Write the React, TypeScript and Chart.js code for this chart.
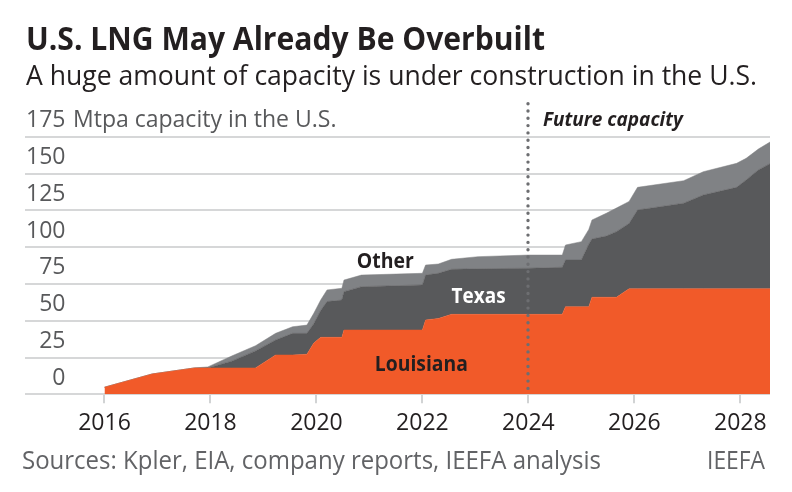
import React, { useEffect, useRef } from 'react';
import { Chart, registerables } from 'chart.js';

Chart.register(...registerables);

// Years (decimal) at which capacity changes
const years = [
  2016.0, 2016.9, 2017.7, 2017.95, 2018.4, 2018.85, 2019.23, 2019.55, 2019.82, 2019.95,
  2020.08, 2020.2, 2020.48, 2020.52, 2020.85, 2022.0, 2022.06, 2022.3, 2022.55, 2023.05,
  2024.0, 2024.64, 2024.7, 2025.0, 2025.14, 2025.2, 2025.47, 2025.66, 2025.9, 2026.06,
  2026.93, 2027.3, 2027.93, 2028.11, 2028.34, 2028.57,
];

// Capacity in Mtpa by state (stacked)
const louisiana = [
  4.8, 13.8, 17.9, 17.9, 17.9, 17.9, 26.7, 26.7, 27.2, 34.8,
  38.7, 38.7, 38.7, 43.7, 43.7, 43.7, 50.5, 51.5, 54.3, 54.3,
  54.3, 54.3, 59.5, 59.5, 59.5, 65.9, 65.9, 65.9, 71.7, 71.7,
  71.7, 71.7, 71.7, 71.7, 71.7, 71.7,
];
const texas = [
  0, 0, 0, 0, 4.6, 11.6, 10.2, 14.7, 14.2, 13.2,
  18.3, 24.3, 25.3, 26.0, 29.4, 30.6, 30.5, 30.7, 30.6, 31.0,
  31.3, 32.0, 31.7, 31.7, 42.5, 39.6, 41.6, 44.6, 44.3, 53.5,
  58.1, 63.7, 68.9, 73.9, 80.7, 85.2,
];
const other = [
  0, 0, 0, 0.7, 3.5, 3.5, 4.5, 4.5, 5.6, 7.0,
  7.0, 7.9, 8.0, 7.9, 7.9, 7.9, 6.8, 6.3, 6.8, 8.2,
  9.0, 8.3, 10.2, 12.5, 10.0, 12.9, 15.5, 16.0, 15.0, 15.4,
  15.3, 15.8, 16.3, 14.7, 14.2, 14.7,
];

const xTicks = [2016, 2018, 2020, 2022, 2024, 2026, 2028];
const yTicks = [0, 25, 50, 75, 100, 125, 150, 175];
const futureYear = 2024;

const title = 'U.S. LNG May Already Be Overbuilt';
const subtitle = 'A huge amount of capacity is under construction in the U.S.';
const yUnit = 'Mtpa capacity in the U.S.';
const source = 'Sources: Kpler, EIA, company reports, IEEFA analysis';
const credit = 'IEEFA';
const futureLabel = 'Future capacity';

const FONT = '"Open Sans", "Noto Sans", sans-serif';

const textPlugin = {
  id: 'textPlugin',
  afterDatasetsDraw(chart: any) {
    const { ctx, chartArea, scales } = chart;
    const x = scales.x;
    const y = scales.y;
    ctx.save();

    // dotted divider
    const px = Math.round(x.getPixelForValue(futureYear));
    ctx.strokeStyle = '#6D6E71';
    ctx.lineWidth = 3.4;
    ctx.lineCap = 'round';
    ctx.setLineDash([0, 7.3]);
    ctx.beginPath();
    ctx.moveTo(px, chartArea.top - 33);
    ctx.lineTo(px, chartArea.bottom + 1);
    ctx.stroke();
    ctx.setLineDash([]);

    // series labels
    ctx.textAlign = 'center';
    ctx.textBaseline = 'alphabetic';
    ctx.font = `bold 22px ${FONT}`;
    ctx.fillStyle = '#231F20';
    ctx.fillText('Other', x.getPixelForValue(2021.3), y.getPixelForValue(85.6), 57);
    ctx.fillStyle = '#FFFFFF';
    ctx.fillText('Texas', x.getPixelForValue(2023.06), y.getPixelForValue(62.2), 54);
    ctx.fillStyle = '#231F20';
    ctx.fillText('Louisiana', x.getPixelForValue(2021.98), y.getPixelForValue(16.0), 93);

    // future capacity
    ctx.textAlign = 'left';
    ctx.font = `italic bold 19px ${FONT}`;
    ctx.fillStyle = '#231F20';
    ctx.fillText(futureLabel, px + 15, chartArea.top - 10.5, 147);
    ctx.restore();
  },
  afterDraw(chart: any) {
    const { ctx, scales } = chart;
    const y = scales.y;
    ctx.save();
    ctx.textAlign = 'left';
    ctx.textBaseline = 'alphabetic';
    ctx.fillStyle = '#231F20';
    ctx.font = `bold 32px ${FONT}`;
    ctx.fillText(title, 26, 50, 519);
    ctx.font = `28px ${FONT}`;
    ctx.fillText(subtitle, 26, 85, 731);

    // y unit suffix next to top tick
    ctx.font = `23px ${FONT}`;
    ctx.fillStyle = '#58595B';
    ctx.textBaseline = 'middle';
    ctx.fillText(yUnit, 73, y.getPixelForValue(175) - 16, 275);

    // footer
    ctx.textBaseline = 'alphabetic';
    ctx.font = `26px ${FONT}`;
    ctx.fillStyle = '#626366';
    ctx.fillText(source, 22, 469, 579);
    ctx.textAlign = 'right';
    ctx.fillText(credit, 765, 469, 58);
    ctx.restore();
  },
};

export default function App() {
  const ref = useRef<HTMLCanvasElement>(null);

  useEffect(() => {
    const toPts = (arr: number[]) => arr.map((v, i) => ({ x: years[i], y: v }));
    const chart = new Chart(ref.current as HTMLCanvasElement, {
      type: 'line',
      data: {
        datasets: [
          {
            label: 'Louisiana',
            data: toPts(louisiana),
            backgroundColor: '#F15A29',
            borderColor: '#F15A29',
            borderWidth: 0.5,
            fill: 'origin',
            pointRadius: 0,
            tension: 0,
          },
          {
            label: 'Texas',
            data: toPts(texas),
            backgroundColor: '#58595B',
            borderColor: '#58595B',
            borderWidth: 0.5,
            fill: '-1',
            pointRadius: 0,
            tension: 0,
          },
          {
            label: 'Other',
            data: toPts(other),
            backgroundColor: '#808285',
            borderColor: '#808285',
            borderWidth: 0.5,
            fill: '-1',
            pointRadius: 0,
            tension: 0,
          },
        ],
      },
      options: {
        responsive: false,
        animation: false,
        events: [],
        layout: { padding: { left: 25, right: 22, top: 136.7, bottom: 0 } },
        plugins: {
          legend: { display: false },
          tooltip: { enabled: false },
          title: { display: false },
        },
        scales: {
          x: {
            type: 'linear',
            min: 2014.5,
            max: 2028.56,
            afterBuildTicks: (axis: any) => {
              axis.ticks = xTicks.map((v) => ({ value: v }));
            },
            afterFit: (axis: any) => {
              axis.height = 97.7;
            },
            grid: {
              drawOnChartArea: false,
              drawTicks: true,
              tickLength: 9,
              color: '#D1D3D4',
              lineWidth: 2,
            },
            border: { display: false },
            ticks: {
              padding: 6,
              color: '#231F20',
              font: { family: FONT, size: 23 },
              maxRotation: 0,
              autoSkip: false,
              callback: (v: any) => String(v),
            },
          },
          y: {
            type: 'linear',
            stacked: true,
            min: 0,
            max: 175,
            afterBuildTicks: (axis: any) => {
              axis.ticks = yTicks.map((v) => ({ value: v }));
            },
            afterFit: (axis: any) => {
              axis.width = 0;
            },
            grid: {
              drawTicks: false,
              color: '#D6D7D8',
              lineWidth: 2,
            },
            border: { display: false },
            ticks: {
              mirror: true,
              crossAlign: 'far',
              padding: 1,
              labelOffset: -16,
              color: '#58595B',
              font: { family: FONT, size: 23 },
              callback: (v: any) => String(v),
            },
          },
        },
      },
      plugins: [textPlugin],
    } as any);
    return () => chart.destroy();
  }, []);

  return (
    <div style={{ position: 'absolute', left: 0, top: 0, width: 792, height: 492, background: '#FFFFFF' }}>
      <canvas ref={ref} width={792} height={492} style={{ display: 'block', width: 792, height: 492 }} />
    </div>
  );
}
